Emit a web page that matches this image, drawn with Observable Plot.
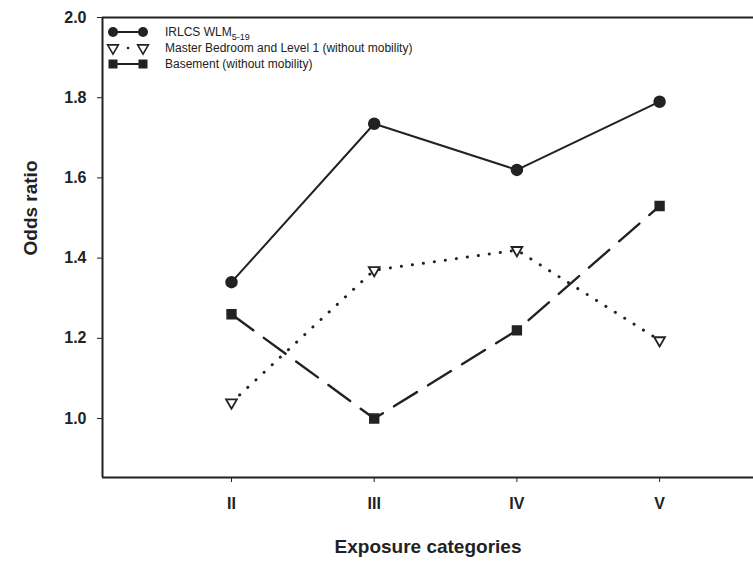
<!DOCTYPE html>
<html>
<head>
<meta charset="utf-8">
<script src="https://cdn.jsdelivr.net/npm/d3@7"></script>
<script src="https://cdn.jsdelivr.net/npm/@observablehq/plot@0.6"></script>
<style>
  html, body { margin: 0; padding: 0; background: #fff; overflow: hidden; }
  #wrap { position: relative; width: 753px; height: 563px; }
  #legend { position: absolute; left: 0; top: 0; pointer-events: none; }
  #legend text { font-family: "Liberation Sans", Arial, sans-serif; font-size: 12px; fill: #222; }
</style>
</head>
<body>
<div id="wrap"></div>
<script>
// ---- data ----
const categories = ["II", "III", "IV", "V"];
const irlcs    = [1.34, 1.735, 1.62, 1.79];
const master   = [1.04, 1.37, 1.42, 1.195];
const basement = [1.26, 1.0, 1.22, 1.53];
const yTicks = [1.0, 1.2, 1.4, 1.6, 1.8, 2.0];
const seriesNames = ["IRLCS WLM", "Master Bedroom and Level 1 (without mobility)", "Basement (without mobility)"];

const toRows = (vals) => categories.map((c, i) => ({i, c, v: vals[i]}));
const dIrlcs = toRows(irlcs), dMaster = toRows(master), dBase = toRows(basement);

const ink = "#222";
const xDomain = [-0.904, 3.658];
const yDomain = [0.853, 2.0];

const chart = Plot.plot({
  width: 753, height: 563,
  marginLeft: 102, marginRight: 0, marginTop: 17, marginBottom: 86,
  style: {fontFamily: "'Liberation Sans', Arial, sans-serif", fontSize: "16px", fontWeight: "bold", color: ink, background: "#fff"},
  x: {type: "linear", domain: xDomain, axis: null},
  y: {domain: yDomain, axis: null},
  marks: [
    Plot.ruleY(yDomain, {stroke: ink, strokeWidth: 2}),
    Plot.ruleX([xDomain[0]], {stroke: ink, strokeWidth: 2}),
    Plot.axisY({ticks: yTicks, tickFormat: d => d.toFixed(1), tickSize: 5, tickPadding: 11, label: null}),
    Plot.axisX({ticks: [0, 1, 2, 3], tickFormat: i => categories[i], tickSize: 5, tickPadding: 15, label: null}),
    Plot.line(dIrlcs, {x: "i", y: "v", stroke: ink, strokeWidth: 2}),
    Plot.line(dMaster, {x: "i", y: "v", stroke: ink, strokeWidth: 3, strokeDasharray: "0.1 11", strokeLinecap: "round"}),
    Plot.line(dBase, {x: "i", y: "v", stroke: ink, strokeWidth: 2.4, strokeDasharray: "27 13"}),
    Plot.dot(dIrlcs, {x: "i", y: "v", r: 5.5, fill: ink, stroke: ink}),
    Plot.dot(dBase, {x: "i", y: "v", r: 5, symbol: "square", fill: ink, stroke: ink, strokeWidth: 1.5}),
    Plot.dot(dMaster, {x: "i", y: "v", r: 4, symbol: "triangle", rotate: 180, fill: "#fff", stroke: ink, strokeWidth: 1.8}),
    Plot.text(["Odds ratio"], {frameAnchor: "left", rotate: -90, dx: -72, dy: 8, fontSize: 19, fontWeight: "bold", fill: ink}),
    Plot.text(["Exposure categories"], {frameAnchor: "bottom", dy: 75, fontSize: 19, fontWeight: "bold", fill: ink})
  ]
});
document.getElementById("wrap").appendChild(chart);

// ---- legend overlay ----
const leg = d3.select("#wrap").append("svg").attr("id", "legend").attr("width", 753).attr("height", 563);
const rows = [32, 48, 64];
const x1 = 113, x2 = 143, tx = 165;
// row 1
leg.append("line").attr("x1", x1).attr("x2", x2).attr("y1", rows[0]).attr("y2", rows[0]).attr("stroke", ink).attr("stroke-width", 2);
[x1, x2].forEach(x => leg.append("circle").attr("cx", x).attr("cy", rows[0]).attr("r", 5).attr("fill", ink));
const t1 = leg.append("text").attr("x", tx).attr("y", rows[0] + 4);
t1.append("tspan").text(seriesNames[0]);
t1.append("tspan").attr("dy", 4).attr("font-size", "9px").text("5-19");
// row 2
leg.append("line").attr("x1", x1).attr("x2", x2).attr("y1", rows[1]).attr("y2", rows[1]).attr("stroke", ink).attr("stroke-width", 2.6).attr("stroke-dasharray", "0.1 15").attr("stroke-dashoffset", -15).attr("stroke-linecap", "round");
[x1, x2].forEach(x => leg.append("path").attr("d", d3.symbol(d3.symbolTriangle, 50)()).attr("transform", `translate(${x},${rows[1]}) rotate(180)`).attr("fill", "#fff").attr("stroke", ink).attr("stroke-width", 1.6));
leg.append("text").attr("x", tx).attr("y", rows[1] + 4).text(seriesNames[1]);
// row 3
leg.append("line").attr("x1", x1).attr("x2", x2).attr("y1", rows[2]).attr("y2", rows[2]).attr("stroke", ink).attr("stroke-width", 2);
[x1, x2].forEach(x => leg.append("rect").attr("x", x - 4.5).attr("y", rows[2] - 4.5).attr("width", 9).attr("height", 9).attr("fill", ink));
leg.append("text").attr("x", tx).attr("y", rows[2] + 4).text(seriesNames[2]);
</script>
</body>
</html>
